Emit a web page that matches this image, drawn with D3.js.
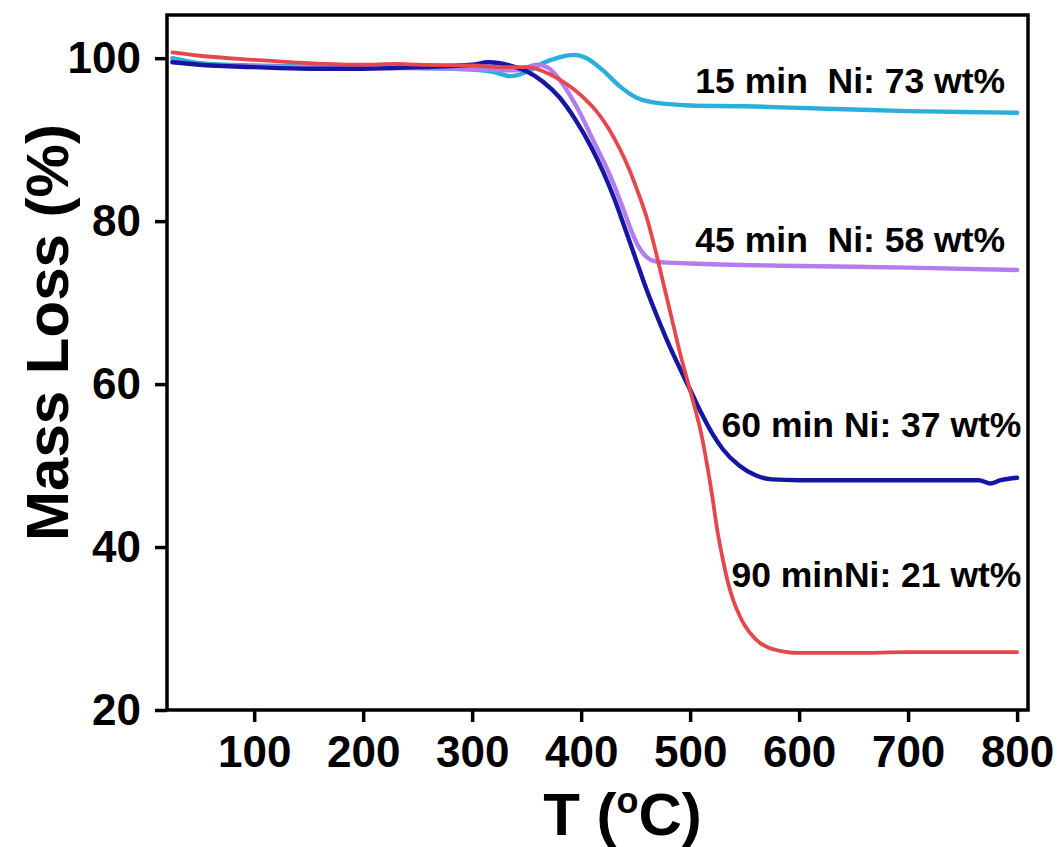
<!DOCTYPE html>
<html>
<head>
<meta charset="utf-8">
<script src="https://cdn.jsdelivr.net/npm/d3@7"></script>
<style>
  html, body { margin: 0; padding: 0; background: #fff; }
  svg { display: block; }
  text { font-family: "Liberation Sans", Arial, sans-serif; font-weight: bold; fill: #000; }
</style>
</head>
<body>
<svg id="chart" width="1061" height="847"></svg>
<script>
// Temperature axis ticks and mass-loss axis ticks
const xTicks = [100, 200, 300, 400, 500, 600, 700, 800];
const yTicks = [20, 40, 60, 80, 100];

// TGA curves: temperature (°C) and remaining mass (%)
const t15 = [25, 50, 100, 150, 200, 250, 300, 320, 335, 350, 365, 380, 393, 405, 420, 435, 450, 465, 500, 550, 600, 650, 700, 750, 800];
const m15 = [100.0, 99.4, 99.1, 99.0, 98.9, 98.8, 98.6, 98.3, 97.8, 98.3, 99.4, 100.1, 100.4, 100.0, 98.5, 96.6, 95.2, 94.6, 94.2, 94.1, 93.9, 93.7, 93.5, 93.4, 93.3];

const t45 = [25, 50, 100, 150, 200, 250, 300, 340, 360, 370, 380, 390, 400, 410, 420, 430, 440, 447, 453, 460, 470, 500, 600, 700, 800];
const m45 = [99.6, 99.2, 99.0, 98.9, 98.8, 98.8, 98.7, 98.5, 99.2, 98.8, 97.4, 95.4, 93.0, 90.2, 87.5, 84.5, 81.0, 78.5, 76.8, 75.6, 75.0, 74.8, 74.5, 74.3, 74.0];

const t60 = [25, 50, 100, 150, 200, 250, 300, 315, 335, 350, 365, 380, 395, 410, 420, 430, 440, 450, 460, 470, 480, 490, 500, 510, 520, 530, 545, 560, 575, 600, 700, 765, 775, 785, 800];
const m60 = [99.5, 99.2, 98.9, 98.7, 98.7, 98.9, 99.2, 99.5, 99.1, 98.4, 97.1, 95.2, 92.4, 88.9, 86.1, 82.9, 79.2, 75.4, 71.6, 68.2, 65.0, 62.1, 59.3, 56.5, 54.0, 52.0, 50.0, 48.8, 48.3, 48.2, 48.2, 48.2, 47.8, 48.2, 48.5];

const t90 = [25, 50, 100, 150, 200, 230, 250, 300, 330, 350, 365, 380, 395, 405, 414, 425, 435, 444, 452, 460, 468, 475, 482, 490, 500, 510, 515, 520, 525, 530, 535, 540, 545, 550, 560, 575, 600, 650, 700, 800];
const m90 = [100.7, 100.3, 99.8, 99.4, 99.2, 99.3, 99.2, 99.1, 98.9, 98.9, 98.4, 97.4, 96.0, 94.8, 93.5, 91.4, 89.0, 86.4, 83.6, 80.5, 76.5, 72.6, 68.7, 64.2, 59.2, 54.0, 50.5, 46.5, 42.0, 38.5, 35.5, 33.3, 31.7, 30.4, 28.7, 27.5, 27.0, 27.0, 27.1, 27.1];

const seriesColors = ["#2AAFDA", "#B37DEE", "#1616A2", "#E6474C"];
const seriesWidths = [4.4, 4.4, 4.4, 3.8];
const labelTexts = ["15 min\u00a0\u00a0Ni: 73 wt%", "45 min\u00a0\u00a0Ni: 58 wt%", "60 min Ni: 37 wt%", "90 minNi: 21 wt%"];

const series = [
  { T: t15, M: m15 },
  { T: t45, M: m45 },
  { T: t60, M: m60 },
  { T: t90, M: m90 }
];

const svg = d3.select("#chart");
const plot = { left: 167, right: 1028, top: 15, bottom: 710 };

const x = d3.scaleLinear().domain([20, 810]).range([plot.left, plot.right]);
const y = d3.scaleLinear().domain([20, 105.3]).range([plot.bottom, plot.top]);

// curves
const line = d3.line()
  .x(d => x(d[0]))
  .y(d => y(d[1]))
  .curve(d3.curveMonotoneX);

const curveGroup = svg.append("g");
series.forEach((s, i) => {
  const pts = s.T.map((t, k) => [t, s.M[k]]);
  curveGroup.append("path")
    .datum(pts)
    .attr("fill", "none")
    .attr("stroke", seriesColors[i])
    .attr("stroke-width", seriesWidths[i])
    .attr("stroke-linejoin", "round")
    .attr("stroke-linecap", "round")
    .attr("d", line);
});

// axes
const xAxis = d3.axisBottom(x).tickValues(xTicks).tickSize(12).tickPadding(14).tickSizeOuter(0);
const yAxis = d3.axisLeft(y).tickValues(yTicks).tickSize(12).tickPadding(14).tickSizeOuter(0);

const gx = svg.append("g").attr("transform", `translate(0,${plot.bottom})`).call(xAxis);
const gy = svg.append("g").attr("transform", `translate(${plot.left},0)`).call(yAxis);

[gx, gy].forEach(g => {
  g.select(".domain").remove();
  g.selectAll(".tick line").attr("stroke", "#000").attr("stroke-width", 3.5);
  g.selectAll(".tick text")
    .style("font-family", "'Liberation Sans', Arial, sans-serif")
    .style("font-weight", "bold")
    .style("font-size", "44px")
    .attr("fill", "#000");
});

// frame
svg.append("rect")
  .attr("x", plot.left)
  .attr("y", plot.top)
  .attr("width", plot.right - plot.left)
  .attr("height", plot.bottom - plot.top)
  .attr("fill", "none")
  .attr("stroke", "#000")
  .attr("stroke-width", 3.5);

// axis titles
const xt = svg.append("text")
  .attr("x", (plot.left + plot.right) / 2 + 25)
  .attr("y", 835)
  .attr("text-anchor", "middle")
  .style("font-size", "60px");
xt.append("tspan").text("T (");
xt.append("tspan").text("o").style("font-size", "36px").attr("dy", -22);
xt.append("tspan").text("C)").attr("dy", 22);

svg.append("text")
  .attr("transform", `translate(68,${(plot.top + plot.bottom) / 2 - 30}) rotate(-90)`)
  .attr("text-anchor", "middle")
  .style("font-size", "60px")
  .text("Mass Loss (%)");

// sample annotations, anchored at their right end
const labelAnchors = [[800, 95.7], [800, 76.2], [815, 53.5], [815, 35.1]];
labelTexts.forEach((txt, i) => {
  svg.append("text")
    .attr("x", x(labelAnchors[i][0]) - 12)
    .attr("y", y(labelAnchors[i][1]))
    .attr("text-anchor", "end")
    .style("font-size", "35.5px")
    .text(txt);
});
</script>
</body>
</html>
